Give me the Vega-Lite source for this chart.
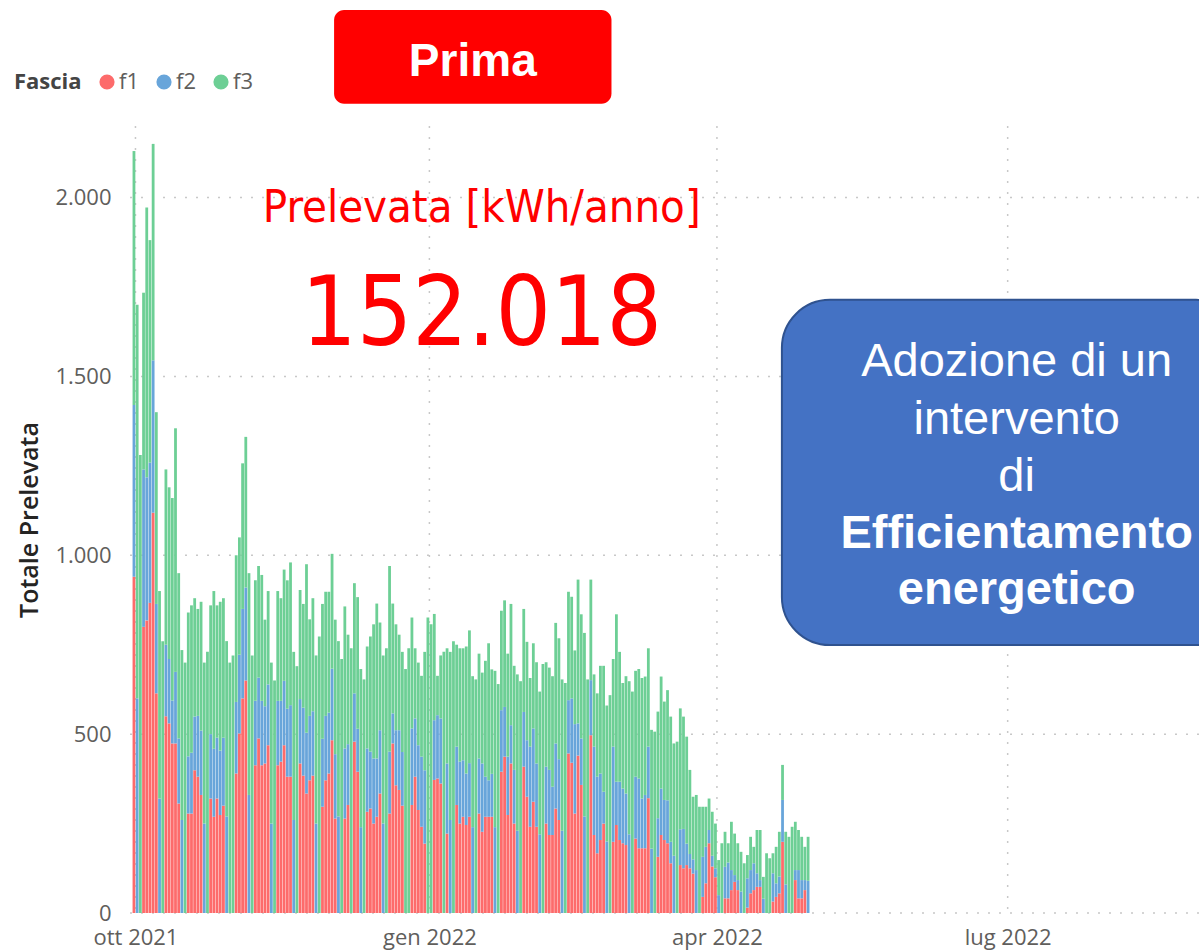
{
  "$schema": "https://vega.github.io/schema/vega-lite/v6.json",
  "width": 1072,
  "height": 787,
  "autosize": {"type": "none"},
  "padding": {"left": 127, "top": 126, "right": 0, "bottom": 37},
  "background": "white",
  "config": {
    "view": {"stroke": null, "fill": null},
    "font": "Open Sans",
    "axis": {
      "grid": false,
      "domain": false, "ticks": false,
      "labelFont": "Open Sans", "labelFontSize": 22, "labelColor": "#605E5C",
      "titleFont": "Open Sans", "titleFontSize": 25, "titleFontWeight": 600, "titleColor": "#252423"
    },
    "axisX": {"grid": false, "labelPadding": 14, "labelOverlap": false, "labelFlush": false},
    "axisY": {"grid": false, "labelPadding": 16, "titlePadding": 12}
  },
  "datasets": {
    "bars": [
      {"d":"2021-10-01","f1":940,"f2":480,"f3":710},
      {"d":"2021-10-02","f1":0,"f2":600,"f3":1100},
      {"d":"2021-10-03","f1":0,"f2":0,"f3":1280},
      {"d":"2021-10-04","f1":800,"f2":440,"f3":494},
      {"d":"2021-10-05","f1":818,"f2":400,"f3":754},
      {"d":"2021-10-06","f1":867,"f2":392,"f3":622},
      {"d":"2021-10-07","f1":1119,"f2":426,"f3":605},
      {"d":"2021-10-08","f1":614,"f2":250,"f3":536},
      {"d":"2021-10-09","f1":0,"f2":320,"f3":580},
      {"d":"2021-10-10","f1":0,"f2":0,"f3":760},
      {"d":"2021-10-11","f1":550,"f2":200,"f3":490},
      {"d":"2021-10-12","f1":530,"f2":180,"f3":480},
      {"d":"2021-10-13","f1":474,"f2":120,"f3":566},
      {"d":"2021-10-14","f1":474,"f2":200,"f3":681},
      {"d":"2021-10-15","f1":306,"f2":182,"f3":462},
      {"d":"2021-10-16","f1":0,"f2":260,"f3":475},
      {"d":"2021-10-17","f1":0,"f2":0,"f3":700},
      {"d":"2021-10-18","f1":278,"f2":160,"f3":402},
      {"d":"2021-10-19","f1":278,"f2":170,"f3":412},
      {"d":"2021-10-20","f1":399,"f2":150,"f3":331},
      {"d":"2021-10-21","f1":381,"f2":170,"f3":299},
      {"d":"2021-10-22","f1":330,"f2":180,"f3":360},
      {"d":"2021-10-23","f1":0,"f2":250,"f3":450},
      {"d":"2021-10-24","f1":0,"f2":0,"f3":730},
      {"d":"2021-10-25","f1":320,"f2":180,"f3":360},
      {"d":"2021-10-26","f1":269,"f2":190,"f3":441},
      {"d":"2021-10-27","f1":320,"f2":170,"f3":370},
      {"d":"2021-10-28","f1":274,"f2":180,"f3":416},
      {"d":"2021-10-29","f1":300,"f2":190,"f3":390},
      {"d":"2021-10-30","f1":0,"f2":270,"f3":490},
      {"d":"2021-10-31","f1":0,"f2":0,"f3":700},
      {"d":"2021-11-01","f1":0,"f2":0,"f3":720},
      {"d":"2021-11-02","f1":390,"f2":200,"f3":410},
      {"d":"2021-11-03","f1":502,"f2":220,"f3":328},
      {"d":"2021-11-04","f1":600,"f2":250,"f3":407},
      {"d":"2021-11-05","f1":650,"f2":260,"f3":421},
      {"d":"2021-11-06","f1":0,"f2":330,"f3":620},
      {"d":"2021-11-07","f1":0,"f2":0,"f3":720},
      {"d":"2021-11-08","f1":413,"f2":180,"f3":337},
      {"d":"2021-11-09","f1":488,"f2":170,"f3":312},
      {"d":"2021-11-10","f1":413,"f2":180,"f3":352},
      {"d":"2021-11-11","f1":418,"f2":160,"f3":242},
      {"d":"2021-11-12","f1":469,"f2":170,"f3":261},
      {"d":"2021-11-13","f1":0,"f2":250,"f3":450},
      {"d":"2021-11-14","f1":0,"f2":0,"f3":650},
      {"d":"2021-11-15","f1":413,"f2":180,"f3":307},
      {"d":"2021-11-16","f1":423,"f2":170,"f3":287},
      {"d":"2021-11-17","f1":469,"f2":180,"f3":311},
      {"d":"2021-11-18","f1":381,"f2":190,"f3":359},
      {"d":"2021-11-19","f1":381,"f2":200,"f3":399},
      {"d":"2021-11-20","f1":0,"f2":260,"f3":470},
      {"d":"2021-11-21","f1":0,"f2":0,"f3":690},
      {"d":"2021-11-22","f1":418,"f2":180,"f3":305},
      {"d":"2021-11-23","f1":384,"f2":190,"f3":290},
      {"d":"2021-11-24","f1":334,"f2":170,"f3":471},
      {"d":"2021-11-25","f1":371,"f2":180,"f3":270},
      {"d":"2021-11-26","f1":384,"f2":180,"f3":316},
      {"d":"2021-11-27","f1":0,"f2":250,"f3":470},
      {"d":"2021-11-28","f1":0,"f2":0,"f3":773},
      {"d":"2021-11-29","f1":297,"f2":190,"f3":377},
      {"d":"2021-11-30","f1":371,"f2":180,"f3":347},
      {"d":"2021-12-01","f1":390,"f2":170,"f3":338},
      {"d":"2021-12-02","f1":483,"f2":200,"f3":321},
      {"d":"2021-12-03","f1":264,"f2":180,"f3":376},
      {"d":"2021-12-04","f1":0,"f2":270,"f3":490},
      {"d":"2021-12-05","f1":0,"f2":0,"f3":710},
      {"d":"2021-12-06","f1":264,"f2":196,"f3":397},
      {"d":"2021-12-07","f1":302,"f2":170,"f3":306},
      {"d":"2021-12-08","f1":0,"f2":0,"f3":740},
      {"d":"2021-12-09","f1":479,"f2":135,"f3":308},
      {"d":"2021-12-10","f1":395,"f2":120,"f3":368},
      {"d":"2021-12-11","f1":0,"f2":240,"f3":442},
      {"d":"2021-12-12","f1":0,"f2":0,"f3":653},
      {"d":"2021-12-13","f1":283,"f2":177,"f3":285},
      {"d":"2021-12-14","f1":292,"f2":159,"f3":322},
      {"d":"2021-12-15","f1":250,"f2":182,"f3":375},
      {"d":"2021-12-16","f1":269,"f2":163,"f3":433},
      {"d":"2021-12-17","f1":334,"f2":177,"f3":301},
      {"d":"2021-12-18","f1":0,"f2":250,"f3":470},
      {"d":"2021-12-19","f1":0,"f2":0,"f3":740},
      {"d":"2021-12-20","f1":278,"f2":173,"f3":519},
      {"d":"2021-12-21","f1":474,"f2":84,"f3":307},
      {"d":"2021-12-22","f1":357,"f2":154,"f3":296},
      {"d":"2021-12-23","f1":344,"f2":167,"f3":267},
      {"d":"2021-12-24","f1":300,"f2":150,"f3":280},
      {"d":"2021-12-25","f1":0,"f2":0,"f3":682},
      {"d":"2021-12-26","f1":0,"f2":0,"f3":740},
      {"d":"2021-12-27","f1":302,"f2":214,"f3":310},
      {"d":"2021-12-28","f1":381,"f2":163,"f3":196},
      {"d":"2021-12-29","f1":288,"f2":181,"f3":231},
      {"d":"2021-12-30","f1":241,"f2":196,"f3":226},
      {"d":"2021-12-31","f1":194,"f2":205,"f3":331},
      {"d":"2022-01-01","f1":0,"f2":0,"f3":826},
      {"d":"2022-01-02","f1":0,"f2":0,"f3":807},
      {"d":"2022-01-03","f1":372,"f2":167,"f3":297},
      {"d":"2022-01-04","f1":376,"f2":177,"f3":110},
      {"d":"2022-01-05","f1":362,"f2":182,"f3":176},
      {"d":"2022-01-06","f1":0,"f2":0,"f3":730},
      {"d":"2022-01-07","f1":222,"f2":196,"f3":322},
      {"d":"2022-01-08","f1":0,"f2":260,"f3":470},
      {"d":"2022-01-09","f1":0,"f2":0,"f3":760},
      {"d":"2022-01-10","f1":302,"f2":163,"f3":285},
      {"d":"2022-01-11","f1":250,"f2":173,"f3":317},
      {"d":"2022-01-12","f1":269,"f2":158,"f3":313},
      {"d":"2022-01-13","f1":246,"f2":144,"f3":355},
      {"d":"2022-01-14","f1":269,"f2":150,"f3":371},
      {"d":"2022-01-15","f1":0,"f2":240,"f3":422},
      {"d":"2022-01-16","f1":0,"f2":0,"f3":653},
      {"d":"2022-01-17","f1":278,"f2":154,"f3":293},
      {"d":"2022-01-18","f1":227,"f2":191,"f3":254},
      {"d":"2022-01-19","f1":269,"f2":112,"f3":324},
      {"d":"2022-01-20","f1":269,"f2":102,"f3":383},
      {"d":"2022-01-21","f1":269,"f2":120,"f3":292},
      {"d":"2022-01-22","f1":0,"f2":240,"f3":437},
      {"d":"2022-01-23","f1":0,"f2":0,"f3":640},
      {"d":"2022-01-24","f1":395,"f2":172,"f3":278},
      {"d":"2022-01-25","f1":437,"f2":139,"f3":298},
      {"d":"2022-01-26","f1":274,"f2":163,"f3":288},
      {"d":"2022-01-27","f1":418,"f2":107,"f3":339},
      {"d":"2022-01-28","f1":250,"f2":150,"f3":291},
      {"d":"2022-01-29","f1":0,"f2":230,"f3":437},
      {"d":"2022-01-30","f1":0,"f2":0,"f3":648},
      {"d":"2022-01-31","f1":409,"f2":153,"f3":288},
      {"d":"2022-02-01","f1":325,"f2":158,"f3":275},
      {"d":"2022-02-02","f1":241,"f2":224,"f3":192},
      {"d":"2022-02-03","f1":311,"f2":205,"f3":238},
      {"d":"2022-02-04","f1":241,"f2":177,"f3":283},
      {"d":"2022-02-05","f1":0,"f2":220,"f3":399},
      {"d":"2022-02-06","f1":0,"f2":0,"f3":696},
      {"d":"2022-02-07","f1":250,"f2":159,"f3":292},
      {"d":"2022-02-08","f1":218,"f2":182,"f3":286},
      {"d":"2022-02-09","f1":218,"f2":135,"f3":309},
      {"d":"2022-02-10","f1":292,"f2":182,"f3":337},
      {"d":"2022-02-11","f1":260,"f2":170,"f3":338},
      {"d":"2022-02-12","f1":0,"f2":230,"f3":423},
      {"d":"2022-02-13","f1":0,"f2":0,"f3":643},
      {"d":"2022-02-14","f1":446,"f2":149,"f3":303},
      {"d":"2022-02-15","f1":420,"f2":180,"f3":284},
      {"d":"2022-02-16","f1":278,"f2":250,"f3":206},
      {"d":"2022-02-17","f1":440,"f2":90,"f3":402},
      {"d":"2022-02-18","f1":358,"f2":130,"f3":347},
      {"d":"2022-02-19","f1":0,"f2":270,"f3":513},
      {"d":"2022-02-20","f1":0,"f2":0,"f3":653},
      {"d":"2022-02-21","f1":497,"f2":154,"f3":281},
      {"d":"2022-02-22","f1":218,"f2":247,"f3":202},
      {"d":"2022-02-23","f1":167,"f2":214,"f3":233},
      {"d":"2022-02-24","f1":204,"f2":186,"f3":301},
      {"d":"2022-02-25","f1":250,"f2":89,"f3":352},
      {"d":"2022-02-26","f1":0,"f2":200,"f3":380},
      {"d":"2022-02-27","f1":0,"f2":0,"f3":609},
      {"d":"2022-02-28","f1":199,"f2":266,"f3":245},
      {"d":"2022-03-01","f1":246,"f2":121,"f3":468},
      {"d":"2022-03-02","f1":204,"f2":163,"f3":363},
      {"d":"2022-03-03","f1":195,"f2":153,"f3":295},
      {"d":"2022-03-04","f1":190,"f2":144,"f3":328},
      {"d":"2022-03-05","f1":0,"f2":220,"f3":428},
      {"d":"2022-03-06","f1":0,"f2":0,"f3":619},
      {"d":"2022-03-07","f1":208,"f2":173,"f3":296},
      {"d":"2022-03-08","f1":181,"f2":195,"f3":306},
      {"d":"2022-03-09","f1":181,"f2":139,"f3":337},
      {"d":"2022-03-10","f1":181,"f2":149,"f3":331},
      {"d":"2022-03-11","f1":321,"f2":144,"f3":275},
      {"d":"2022-03-12","f1":0,"f2":180,"f3":332},
      {"d":"2022-03-13","f1":0,"f2":0,"f3":507},
      {"d":"2022-03-14","f1":157,"f2":108,"f3":298},
      {"d":"2022-03-15","f1":218,"f2":130,"f3":313},
      {"d":"2022-03-16","f1":204,"f2":112,"f3":275},
      {"d":"2022-03-17","f1":195,"f2":120,"f3":308},
      {"d":"2022-03-18","f1":139,"f2":60,"f3":350},
      {"d":"2022-03-19","f1":0,"f2":160,"f3":314},
      {"d":"2022-03-20","f1":0,"f2":0,"f3":479},
      {"d":"2022-03-21","f1":134,"f2":100,"f3":338},
      {"d":"2022-03-22","f1":125,"f2":110,"f3":314},
      {"d":"2022-03-23","f1":134,"f2":60,"f3":299},
      {"d":"2022-03-24","f1":125,"f2":40,"f3":235},
      {"d":"2022-03-25","f1":110,"f2":40,"f3":175},
      {"d":"2022-03-26","f1":0,"f2":120,"f3":210},
      {"d":"2022-03-27","f1":0,"f2":0,"f3":297},
      {"d":"2022-03-28","f1":45,"f2":112,"f3":140},
      {"d":"2022-03-29","f1":83,"f2":102,"f3":112},
      {"d":"2022-03-30","f1":195,"f2":37,"f3":88},
      {"d":"2022-03-31","f1":130,"f2":30,"f3":123},
      {"d":"2022-04-01","f1":100,"f2":25,"f3":125},
      {"d":"2022-04-02","f1":0,"f2":50,"f3":98},
      {"d":"2022-04-03","f1":0,"f2":0,"f3":195},
      {"d":"2022-04-04","f1":41,"f2":88,"f3":98},
      {"d":"2022-04-05","f1":41,"f2":100,"f3":54},
      {"d":"2022-04-06","f1":64,"f2":56,"f3":135},
      {"d":"2022-04-07","f1":87,"f2":19,"f3":116},
      {"d":"2022-04-08","f1":64,"f2":28,"f3":103},
      {"d":"2022-04-09","f1":0,"f2":60,"f3":111},
      {"d":"2022-04-10","f1":0,"f2":0,"f3":139},
      {"d":"2022-04-11","f1":15,"f2":82,"f3":65},
      {"d":"2022-04-12","f1":55,"f2":65,"f3":93},
      {"d":"2022-04-13","f1":64,"f2":75,"f3":46},
      {"d":"2022-04-14","f1":73,"f2":38,"f3":121},
      {"d":"2022-04-15","f1":73,"f2":19,"f3":140},
      {"d":"2022-04-16","f1":0,"f2":40,"f3":61},
      {"d":"2022-04-17","f1":0,"f2":0,"f3":167},
      {"d":"2022-04-18","f1":0,"f2":0,"f3":153},
      {"d":"2022-04-19","f1":32,"f2":79,"f3":56},
      {"d":"2022-04-20","f1":45,"f2":38,"f3":102},
      {"d":"2022-04-21","f1":55,"f2":47,"f3":125},
      {"d":"2022-04-22","f1":199,"f2":117,"f3":98},
      {"d":"2022-04-23","f1":0,"f2":80,"f3":147},
      {"d":"2022-04-24","f1":0,"f2":0,"f3":213},
      {"d":"2022-04-25","f1":0,"f2":0,"f3":241},
      {"d":"2022-04-26","f1":92,"f2":28,"f3":135},
      {"d":"2022-04-27","f1":41,"f2":79,"f3":112},
      {"d":"2022-04-28","f1":41,"f2":51,"f3":121},
      {"d":"2022-04-29","f1":64,"f2":28,"f3":93},
      {"d":"2022-04-30","f1":0,"f2":90,"f3":123}
    ]
  },
  "layer": [
    {
      "data": {"values": [
        {"g": "2021-10-01T00:00:00Z"},
        {"g": "2022-01-01T00:00:00Z"},
        {"g": "2022-04-01T00:00:00Z"},
        {"g": "2022-07-01T00:00:00Z"}
      ]},
      "mark": {"type": "rule", "color": "#C8C8C8", "strokeWidth": 1.5, "strokeDash": [2, 9]},
      "encoding": {
        "x": {"field": "g", "type": "temporal", "scale": {"type": "utc", "domain": ["2021-09-29T21:57:00Z", "2022-08-28T07:40:00Z"]}, "axis": {"title": null, "values": [{"year": 2021, "month": 10, "date": 1, "utc": true}, {"year": 2022, "month": 1, "date": 1, "utc": true}, {"year": 2022, "month": 4, "date": 1, "utc": true}, {"year": 2022, "month": 7, "date": 1, "utc": true}], "labelExpr": "['gen','feb','mar','apr','mag','giu','lug','ago','set','ott','nov','dic'][utcmonth(datum.value)] + ' ' + utcyear(datum.value)"}}
      }
    },
    {
      "data": {"values": [{"h": 0}, {"h": 500}, {"h": 1000}, {"h": 1500}, {"h": 2000}]},
      "mark": {"type": "rule", "color": "#C8C8C8", "strokeWidth": 1.5, "strokeDash": [2, 9]},
      "encoding": {
        "y": {"field": "h", "type": "quantitative", "scale": {"domain": [0, 2200], "nice": false}, "axis": {"title": "Totale Prelevata", "values": [0, 500, 1000, 1500, 2000], "labelExpr": "replace(format(datum.value, ','), ',', '.')"}}
      }
    },
    {
      "data": {"name": "bars"},
      "transform": [{"fold": ["f1", "f2", "f3"], "as": ["Fascia", "v"]}],
      "mark": {"type": "bar", "width": 2.8, "xOffset": -1.5},
      "encoding": {
        "x": {
          "field": "d", "type": "temporal",
          "scale": {"type": "utc", "domain": ["2021-09-29T21:57:00Z", "2022-08-28T07:40:00Z"]},
          "axis": {
            "title": null,
            "values": [
              {"year": 2021, "month": 10, "date": 1, "utc": true},
              {"year": 2022, "month": 1, "date": 1, "utc": true},
              {"year": 2022, "month": 4, "date": 1, "utc": true},
              {"year": 2022, "month": 7, "date": 1, "utc": true}
            ],
            "labelExpr": "['gen','feb','mar','apr','mag','giu','lug','ago','set','ott','nov','dic'][utcmonth(datum.value)] + ' ' + utcyear(datum.value)"
          }
        },
        "y": {
          "field": "v", "type": "quantitative", "stack": "zero",
          "scale": {"domain": [0, 2200], "nice": false},
          "axis": {
            "title": "Totale Prelevata",
            "values": [0, 500, 1000, 1500, 2000],
            "labelExpr": "replace(format(datum.value, ','), ',', '.')"
          }
        },
        "color": {
          "field": "Fascia", "type": "nominal",
          "scale": {"domain": ["f1", "f2", "f3"], "range": ["#FD6B6B", "#68A5DA", "#6DCF95"]},
          "legend": {
            "orient": "none", "legendX": -113, "legendY": -55, "direction": "horizontal",
            "title": "Fascia", "titleOrient": "left", "titleFont": "Open Sans", "titleFontSize": 22,
            "titleFontWeight": "bold", "titleColor": "#444444", "titlePadding": 14,
            "labelFont": "Open Sans", "labelFontSize": 22, "labelColor": "#605E5C",
            "symbolType": "circle", "symbolSize": 230, "symbolStrokeWidth": 0, "labelOffset": 1,
            "columnPadding": 14
          }
        },
        "order": {"field": "Fascia", "sort": "ascending"}
      }
    },
    {
      "data": {"values": [
        {"x1": "2021-12-02T04:00:00Z", "x2": "2022-02-26T23:45:00Z", "y1": 2262, "y2": 2524, "k": "prima"},
        {"x1": "2022-04-21T08:00:00Z", "x2": "2022-09-13T00:00:00Z", "y1": 749, "y2": 1714, "k": "blue"}
      ]},
      "encoding": {
        "x": {"field": "x1", "type": "temporal", "scale": {"type": "utc", "domain": ["2021-09-29T21:57:00Z", "2022-08-28T07:40:00Z"]}, "axis": {"title": null, "values": [{"year": 2021, "month": 10, "date": 1, "utc": true}, {"year": 2022, "month": 1, "date": 1, "utc": true}, {"year": 2022, "month": 4, "date": 1, "utc": true}, {"year": 2022, "month": 7, "date": 1, "utc": true}], "labelExpr": "['gen','feb','mar','apr','mag','giu','lug','ago','set','ott','nov','dic'][utcmonth(datum.value)] + ' ' + utcyear(datum.value)"}},
        "x2": {"field": "x2"},
        "y": {"field": "y1", "type": "quantitative", "scale": {"domain": [0, 2200], "nice": false}, "axis": {"title": "Totale Prelevata", "values": [0, 500, 1000, 1500, 2000], "labelExpr": "replace(format(datum.value, ','), ',', '.')"}},
        "y2": {"field": "y2"}
      },
      "layer": [
        {
          "transform": [{"filter": "datum.k === 'prima'"}],
          "mark": {"type": "rect", "color": "#FF0000", "cornerRadius": 10}
        },
        {
          "transform": [{"filter": "datum.k === 'blue'"}],
          "mark": {"type": "rect", "color": "#4472C4", "stroke": "#2F528F", "strokeWidth": 2, "cornerRadius": 48}
        }
      ]
    },
    {
      "data": {"values": [
        {"t": "Prima", "x": "2022-01-14T14:00:00Z", "y": 2340, "k": "prima"},
        {"t": "Prelevata [kWh/anno]", "x": "2022-01-17T09:00:00Z", "y": 1932, "k": "card"},
        {"t": "152.018", "x": "2022-01-17T09:00:00Z", "y": 1588, "k": "big"},
        {"t": "Adozione di un", "x": "2022-07-03T19:30:00Z", "y": 1501, "k": "reg"},
        {"t": "intervento", "x": "2022-07-03T19:30:00Z", "y": 1339, "k": "reg"},
        {"t": "di", "x": "2022-07-03T19:30:00Z", "y": 1180, "k": "reg"},
        {"t": "Efficientamento", "x": "2022-07-03T19:30:00Z", "y": 1020, "k": "bold"},
        {"t": "energetico", "x": "2022-07-03T19:30:00Z", "y": 864, "k": "bold"}
      ]},
      "encoding": {
        "x": {"field": "x", "type": "temporal", "scale": {"type": "utc", "domain": ["2021-09-29T21:57:00Z", "2022-08-28T07:40:00Z"]}, "axis": {"title": null, "values": [{"year": 2021, "month": 10, "date": 1, "utc": true}, {"year": 2022, "month": 1, "date": 1, "utc": true}, {"year": 2022, "month": 4, "date": 1, "utc": true}, {"year": 2022, "month": 7, "date": 1, "utc": true}], "labelExpr": "['gen','feb','mar','apr','mag','giu','lug','ago','set','ott','nov','dic'][utcmonth(datum.value)] + ' ' + utcyear(datum.value)"}},
        "y": {"field": "y", "type": "quantitative", "scale": {"domain": [0, 2200], "nice": false}, "axis": {"title": "Totale Prelevata", "values": [0, 500, 1000, 1500, 2000], "labelExpr": "replace(format(datum.value, ','), ',', '.')"}},
        "text": {"field": "t"}
      },
      "layer": [
        {
          "transform": [{"filter": "datum.k === 'prima'"}],
          "mark": {"type": "text", "font": "Liberation Sans", "fontWeight": "bold", "fontSize": 46, "color": "white", "align": "center", "baseline": "alphabetic"}
        },
        {
          "transform": [{"filter": "datum.k === 'card'"}],
          "mark": {"type": "text", "font": "DejaVu Sans Condensed", "fontSize": 45, "color": "#FF0000", "align": "center", "baseline": "alphabetic"}
        },
        {
          "transform": [{"filter": "datum.k === 'big'"}],
          "mark": {"type": "text", "font": "DejaVu Sans Condensed", "fontSize": 97, "color": "#FF0000", "align": "center", "baseline": "alphabetic"}
        },
        {
          "transform": [{"filter": "datum.k === 'reg'"}],
          "mark": {"type": "text", "font": "Liberation Sans", "fontSize": 47, "color": "white", "align": "center", "baseline": "alphabetic"}
        },
        {
          "transform": [{"filter": "datum.k === 'bold'"}],
          "mark": {"type": "text", "font": "Liberation Sans", "fontWeight": "bold", "fontSize": 47, "color": "white", "align": "center", "baseline": "alphabetic"}
        }
      ]
    }
  ]
}
